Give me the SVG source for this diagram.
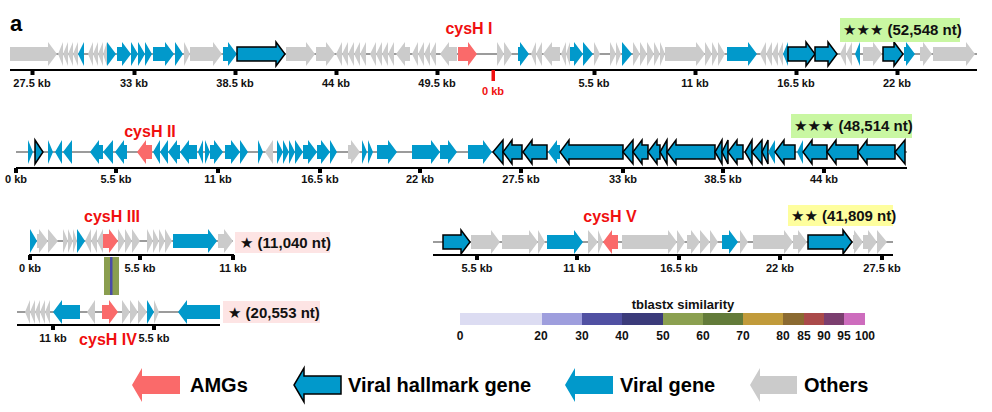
<svg xmlns="http://www.w3.org/2000/svg" width="992" height="412" viewBox="0 0 992 412">
<style>
text{font-family:"Liberation Sans",Arial,"DejaVu Sans",sans-serif;font-weight:bold}
.g{fill:#cbcbcb}
.v{fill:#0199cb}
.h{fill:#0199cb;stroke:#000;stroke-width:1.5;stroke-linejoin:miter}
.r{fill:#fa6a6a}
.trk{stroke:#7a7a7a;stroke-width:1.5;fill:none}
.ax{stroke:#000;stroke-width:2;fill:none}
.tk{fill:#000}
.tl{font-size:11px;text-anchor:middle;fill:#111}
.lab{font-size:16px;text-anchor:middle;fill:#f00f0f}
.st{font-size:15px;fill:#111}
.lg{font-size:20px;fill:#000}
.cb{font-size:12px;text-anchor:middle;fill:#111}
</style>
<text x="10" y="31" style="font-size:22px">a</text>

<g id="row1">
<line class="trk" x1="10" y1="54" x2="977" y2="54"/>
<g id="row1-genes">
<path class="g" d="M10,47 h38 v-5 l9,12 l-9,12 v-5 h-38z"/>
<path class="g" d="M63,42 l-5,12 l5,12z M68,42 l-5,12 l5,12z M73,42 l-5,12 l5,12z M78,42 l-5,12 l5,12z"/>
<path class="v" d="M84,42 l-6,12 l6,12z"/>
<path class="g" d="M93,42 l-5,12 l5,12z M98,42 l-5,12 l5,12z M103,42 l-5,12 l5,12z M107,42 l-4,12 l4,12z"/>
<path class="v" d="M107,42 l9,12 l-9,12z"/>
<path class="v" d="M117,47 h5 v-5 l9,12 l-9,12 v-5 h-5z M131,42 l7,12 l-7,12z M138,42 l7,12 l-7,12z M145,42 l7,12 l-7,12z"/>
<path class="v" d="M153,47 h12 v-5 l9,12 l-9,12 v-5 h-12z M175,42 l8,12 l-8,12z"/>
<path class="g" d="M184,42 l6,12 l-6,12z"/>
<path class="g" d="M190,47 h23 v-5 l9,12 l-9,12 v-5 h-23z"/>
<path class="v" d="M223,47 h5 v-5 l9,12 l-9,12 v-5 h-5z"/>
<path class="h" d="M237,47 h39 v-5 l9,12 l-9,12 v-5 h-39z"/>
<path class="g" d="M286,47 h20 v-5 l9,12 l-9,12 v-5 h-20z"/>
<path class="g" d="M316,47 h10 v-5 l9,12 l-9,12 v-5 h-10z"/>
<path class="g" d="M342,42 l-6,12 l6,12z M348,42 l-6,12 l6,12z M354,42 l-6,12 l6,12z M360,42 l-6,12 l6,12z M366,42 l-6,12 l6,12z"/>
<path class="g" d="M376,42 l-6,12 l6,12z M382,42 l-6,12 l6,12z M388,42 l-6,12 l6,12z M394,42 l-6,12 l6,12z"/>
<path class="g" d="M410,47 h-5 v-5 l-9,12 l9,12 v-5 h5z"/>
<path class="g" d="M418,42 l-6,12 l6,12z M424,42 l-6,12 l6,12z M430,42 l-6,12 l6,12z M436,42 l-6,12 l6,12z"/>
<path class="g" d="M457,47 h-8 v-5 l-9,12 l9,12 v-5 h8z"/>
<path class="r" d="M458,47 h10 v-5 l9,12 l-9,12 v-5 h-10z"/>
<path class="g" d="M497,42 l7,12 l-7,12z M504,42 l8,12 l-8,12z"/>
<path class="v" d="M518,47 h2 v-5 l9,12 l-9,12 v-5 h-2z"/>
<path class="g" d="M536,42 l-5,12 l5,12z M542,42 l-6,12 l6,12z M560,47 h-8 v-5 l-9,12 l9,12 v-5 h8z M566,42 l-5,12 l5,12z M570,42 l-4,12 l4,12z"/>
<path class="v" d="M570,47 h4 v-5 l9,12 l-9,12 v-5 h-4z M583,42 l10,12 l-10,12z"/>
<path class="g" d="M594,42 l6,12 l-6,12z M610,42 l6,12 l-6,12z M616,42 l5,12 l-5,12z"/>
<path class="v" d="M622,42 l10,12 l-10,12z"/>
<path class="g" d="M633,42 l7,12 l-7,12z M640,42 l7,12 l-7,12z M647,42 l7,12 l-7,12z M654,42 l6,12 l-6,12z M660,42 l5,12 l-5,12z"/>
<path class="g" d="M665,47 h31 v-5 l9,12 l-9,12 v-5 h-31z"/>
<path class="g" d="M705,42 l7,12 l-7,12z M712,42 l6,12 l-6,12z M718,42 l7,12 l-7,12z"/>
<path class="v" d="M727,47 h21 v-5 l9,12 l-9,12 v-5 h-21z"/>
<path class="g" d="M766,42 l-6,12 l6,12z M772,42 l-6,12 l6,12z M778,42 l-6,12 l6,12z M783,42 l-5,12 l5,12z"/>
<path class="v" d="M788,42 l-5,12 l5,12z"/>
<path class="h" d="M788,47 h18 v-5 l9,12 l-9,12 v-5 h-18z"/>
<path class="h" d="M815,47 h13 v-5 l9,12 l-9,12 v-5 h-13z"/>
<path class="g" d="M846,42 l-6,12 l6,12z M852,42 l-6,12 l6,12z"/>
<path class="v" d="M860,42 l-5,12 l5,12z"/>
<path class="g" d="M863,47 h10 v-5 l9,12 l-9,12 v-5 h-10z"/>
<path class="h" d="M883,47 h11 v-5 l9,12 l-9,12 v-5 h-11z"/>
<path class="v" d="M904,47 h2 v-5 l9,12 l-9,12 v-5 h-2z"/>
<path class="g" d="M920,47 h3 v-5 l9,12 l-9,12 v-5 h-3z"/>
<path class="g" d="M933,47 h33 v-5 l9,12 l-9,12 v-5 h-33z"/>
</g>
<g id="row1-axis">
<line class="ax" x1="10" y1="70" x2="977" y2="70"/>
<path class="tk" d="M30.5,70h4v5h-4z M132.5,70h4v5h-4z M233.5,70h4v5h-4z M334.5,70h4v5h-4z M435.5,70h4v5h-4z M592.5,70h4v5h-4z M693.5,70h4v5h-4z M794.5,70h4v5h-4z M895.5,70h4v5h-4z"/>
<rect x="491.5" y="70" width="3.5" height="11" fill="#f00f0f"/>
<text class="tl" x="32" y="87">27.5 kb</text>
<text class="tl" x="134" y="87">33 kb</text>
<text class="tl" x="235" y="87">38.5 kb</text>
<text class="tl" x="336" y="87">44 kb</text>
<text class="tl" x="437" y="87">49.5 kb</text>
<text class="tl" x="493" y="95" style="fill:#f00f0f">0 kb</text>
<text class="tl" x="594" y="87">5.5 kb</text>
<text class="tl" x="695" y="87">11 kb</text>
<text class="tl" x="796" y="87">16.5 kb</text>
<text class="tl" x="897" y="87">22 kb</text>
</g>
<text class="lab" x="469" y="34">cysH I</text>
<g id="row1-box">
<rect x="840" y="18" width="120" height="24" fill="#c9f7a2"/>
<text class="st" x="843" y="35">★★★ (52,548 nt)</text>
</g>
</g>

<g id="row2">
<line class="trk" x1="16" y1="152" x2="907" y2="152"/>
<g id="row2-genes">
<path class="v" d="M28,140 l5,12 l-5,12z"/>
<path class="h" d="M35,140 l8,12 l-8,12z"/>
<path class="v" d="M48,140 l5,12 l-5,12z M62,140 l-7,12 l7,12z M72,140 l-9,12 l9,12z"/>
<path class="v" d="M103,145 h-4 v-5 l-9,12 l9,12 v-5 h4z M113,140 l-10,12 l10,12z M127,145 h-3 v-5 l-9,12 l9,12 v-5 h3z"/>
<path class="r" d="M152,145 h-6 v-5 l-9,12 l9,12 v-5 h6z"/>
<path class="v" d="M160,140 l-7,12 l7,12z M168,140 l-8,12 l8,12z M180,145 h-3 v-5 l-9,12 l9,12 v-5 h3z M197,145 h-8 v-5 l-9,12 l9,12 v-5 h8z M203,140 l-5,12 l5,12z"/>
<path class="v" d="M205,140 l5,12 l-5,12z M210,145 h4 v-5 l9,12 l-9,12 v-5 h-4z M225,145 h6 v-5 l9,12 l-9,12 v-5 h-6z M240,140 l8,12 l-8,12z"/>
<path class="v" d="M258,140 l5,12 l-5,12z"/>
<path class="g" d="M273,140 l-8,12 l8,12z"/>
<path class="v" d="M277,140 l6,12 l-6,12z M283,140 l6,12 l-6,12z M289,140 l6,12 l-6,12z M295,140 l8,12 l-8,12z M303,145 h5 v-5 l9,12 l-9,12 v-5 h-5z M317,145 h4 v-5 l9,12 l-9,12 v-5 h-4z M330,140 l7,12 l-7,12z"/>
<path class="g" d="M348,145 h3 v-5 l9,12 l-9,12 v-5 h-3z"/>
<path class="v" d="M362,140 l5,12 l-5,12z M368,140 l5,12 l-5,12z"/>
<path class="v" d="M377,145 h11 v-5 l9,12 l-9,12 v-5 h-11z"/>
<path class="v" d="M412,145 h19 v-5 l9,12 l-9,12 v-5 h-19z M440,145 h8 v-5 l9,12 l-9,12 v-5 h-8z"/>
<path class="v" d="M468,145 h15 v-5 l9,12 l-9,12 v-5 h-15z"/>
<path class="h" d="M503,140 l-10,12 l10,12z"/>
<path class="h" d="M522,145 h-10 v-5 l-9,12 l9,12 v-5 h10z"/>
<path class="h" d="M547,145 h-15 v-5 l-9,12 l9,12 v-5 h15z"/>
<path class="v" d="M560,145 h-3 v-5 l-9,12 l9,12 v-5 h3z"/>
<path class="h" d="M623,145 h-54 v-5 l-9,12 l9,12 v-5 h54z"/>
<path class="h" d="M633,140 l-10,12 l10,12z"/>
<path class="h" d="M648,145 h-6 v-5 l-9,12 l9,12 v-5 h6z"/>
<path class="h" d="M660,145 h-3 v-5 l-9,12 l9,12 v-5 h3z"/>
<path class="h" d="M667,140 l-7,12 l7,12z"/>
<path class="h" d="M715,145 h-39 v-5 l-9,12 l9,12 v-5 h39z"/>
<path class="h" d="M722,140 l-7,12 l7,12z"/>
<path class="h" d="M728,140 l-6,12 l6,12z"/>
<path class="h" d="M743,145 h-6 v-5 l-9,12 l9,12 v-5 h6z"/>
<path class="h" d="M752,140 l-7,12 l7,12z"/>
<path class="h" d="M762,140 l-10,12 l10,12z"/>
<path class="h" d="M768,140 l-6,12 l6,12z"/>
<path class="v" d="M775,140 l-7,12 l7,12z"/>
<path class="h" d="M795,145 h-11 v-5 l-9,12 l9,12 v-5 h11z"/>
<path class="v" d="M803,140 l-6,12 l6,12z"/>
<path class="h" d="M827,145 h-15 v-5 l-9,12 l9,12 v-5 h15z"/>
<path class="h" d="M858,145 h-22 v-5 l-9,12 l9,12 v-5 h22z"/>
<path class="h" d="M895,145 h-28 v-5 l-9,12 l9,12 v-5 h28z"/>
<path class="h" d="M905,140 l-10,12 l10,12z"/>
</g>
<g id="row2-axis">
<line class="ax" x1="16" y1="168" x2="907" y2="168"/>
<path class="tk" d="M14,168h4v5h-4z M114,168h4v5h-4z M216,168h4v5h-4z M318,168h4v5h-4z M418,168h4v5h-4z M519,168h4v5h-4z M621,168h4v5h-4z M721,168h4v5h-4z M822,168h4v5h-4z"/>
<text class="tl" x="16" y="183">0 kb</text>
<text class="tl" x="116" y="183">5.5 kb</text>
<text class="tl" x="218" y="183">11 kb</text>
<text class="tl" x="320" y="183">16.5 kb</text>
<text class="tl" x="420" y="183">22 kb</text>
<text class="tl" x="521" y="183">27.5 kb</text>
<text class="tl" x="623" y="183">33 kb</text>
<text class="tl" x="723" y="183">38.5 kb</text>
<text class="tl" x="824" y="183">44 kb</text>
</g>
<text class="lab" x="150" y="137">cysH II</text>
<g id="row2-box">
<rect x="791" y="114" width="121" height="24" fill="#c9f7a2"/>
<text class="st" x="794" y="131">★★★ (48,514 nt)</text>
</g>
</g>

<g id="similarity">
<rect x="104" y="257" width="15" height="38" fill="#8a9e4f"/>
<rect x="110" y="257" width="2.5" height="38" fill="#4a4aa8"/>
</g>

<g id="row3a">
<line class="trk" x1="30" y1="241" x2="233" y2="241"/>
<path class="v" d="M30,229 l7,12 l-7,12z"/>
<path class="g" d="M37,234 h2 v-5 l9,12 l-9,12 v-5 h-2z M48,229 l10,12 l-10,12z"/>
<path class="g" d="M63,229 l5,12 l-5,12z M68,229 l5,12 l-5,12z M73,229 l4,12 l-4,12z"/>
<path class="v" d="M77,229 l8,12 l-8,12z"/>
<path class="g" d="M91,229 l-6,12 l6,12z M97,229 l-6,12 l6,12z M103,229 l-6,12 l6,12z"/>
<path class="r" d="M103,234 h6 v-5 l9,12 l-9,12 v-5 h-6z"/>
<path class="g" d="M118,229 l7,12 l-7,12z M125,229 l7,12 l-7,12z M132,229 l8,12 l-8,12z"/>
<path class="g" d="M147,229 l6,12 l-6,12z M153,229 l6,12 l-6,12z M159,229 l6,12 l-6,12z M165,229 l7,12 l-7,12z"/>
<path class="v" d="M173,234 h35 v-5 l9,12 l-9,12 v-5 h-35z"/>
<path class="g" d="M218,234 h6 v-5 l9,12 l-9,12 v-5 h-6z"/>
<line class="ax" x1="29" y1="255" x2="234" y2="255"/>
<path class="tk" d="M28,255h4v5h-4z M138,255h4v5h-4z M231,255h4v5h-4z"/>
<text class="tl" x="30" y="272">0 kb</text>
<text class="tl" x="140" y="272">5.5 kb</text>
<text class="tl" x="233" y="272">11 kb</text>
<text class="lab" x="112" y="222">cysH III</text>
<rect x="235" y="232" width="95" height="21" fill="#fde4e4"/>
<text class="st" x="240" y="248">★ (11,040 nt)</text>
</g>

<g id="row3b">
<line class="trk" x1="17" y1="312" x2="220" y2="312"/>
<path class="g" d="M30,300 l-5,12 l5,12z M35,300 l-5,12 l5,12z M40,300 l-5,12 l5,12z M45,300 l-5,12 l5,12z M50,300 l-5,12 l5,12z"/>
<path class="v" d="M80,305 h-18 v-5 l-9,12 l9,12 v-5 h18z"/>
<path class="g" d="M95,300 l-8,12 l8,12z"/>
<path class="r" d="M102,305 h7 v-5 l9,12 l-9,12 v-5 h-7z"/>
<path class="g" d="M122,300 l8,12 l-8,12z M130,300 l8,12 l-8,12z M138,300 l9,12 l-9,12z"/>
<path class="v" d="M147,300 l7,12 l-7,12z"/>
<path class="g" d="M154,300 l5,12 l-5,12z"/>
<path class="v" d="M220,305 h-33 v-5 l-9,12 l9,12 v-5 h33z"/>
<line class="ax" x1="17" y1="325" x2="220" y2="325"/>
<path class="tk" d="M51,325h4v5h-4z M152,325h4v5h-4z"/>
<text class="tl" x="53" y="342">11 kb</text>
<text class="tl" x="154" y="342">5.5 kb</text>
<text class="lab" x="108" y="345">cysH IV</text>
<rect x="223" y="301" width="97" height="22" fill="#fde4e4"/>
<text class="st" x="228" y="318">★ (20,553 nt)</text>
</g>

<g id="row3c">
<line class="trk" x1="433" y1="242" x2="893" y2="242"/>
<path class="h" d="M443,235 h18 v-5 l9,12 l-9,12 v-5 h-18z"/>
<path class="g" d="M471,235 h20 v-5 l9,12 l-9,12 v-5 h-20z M502,235 h27 v-5 l9,12 l-9,12 v-5 h-27z M538,230 l7,12 l-7,12z"/>
<path class="v" d="M547,235 h27 v-5 l9,12 l-9,12 v-5 h-27z"/>
<path class="g" d="M588,230 l10,12 l-10,12z M598,230 l5,12 l-5,12z"/>
<path class="r" d="M618,235 h-6 v-5 l-9,12 l9,12 v-5 h6z"/>
<path class="g" d="M622,235 h46 v-5 l9,12 l-9,12 v-5 h-46z M677,230 l8,12 l-8,12z M687,235 h4 v-5 l9,12 l-9,12 v-5 h-4z M700,230 l10,12 l-10,12z M710,230 l8,12 l-8,12z"/>
<path class="v" d="M722,235 h7 v-5 l9,12 l-9,12 v-5 h-7z"/>
<path class="g" d="M740,230 l8,12 l-8,12z"/>
<path class="g" d="M753,235 h31 v-5 l9,12 l-9,12 v-5 h-31z M793,235 h5 v-5 l9,12 l-9,12 v-5 h-5z"/>
<path class="h" d="M808,235 h35 v-5 l9,12 l-9,12 v-5 h-35z"/>
<path class="g" d="M853,235 h1 v-5 l9,12 l-9,12 v-5 h-1z M863,235 h5 v-5 l9,12 l-9,12 v-5 h-5z M877,230 l10,12 l-10,12z"/>
<line class="ax" x1="433" y1="255" x2="893" y2="255"/>
<path class="tk" d="M475,255h4v5h-4z M575,255h4v5h-4z M677,255h4v5h-4z M778,255h4v5h-4z M880,255h4v5h-4z"/>
<text class="tl" x="477" y="272">5.5 kb</text>
<text class="tl" x="577" y="272">11 kb</text>
<text class="tl" x="679" y="272">16.5 kb</text>
<text class="tl" x="780" y="272">22 kb</text>
<text class="tl" x="882" y="272">27.5 kb</text>
<text class="lab" x="610" y="222">cysH V</text>
<rect x="788" y="205" width="105" height="21" fill="#fefe9e"/>
<text class="st" x="791" y="221">★★ (41,809 nt)</text>
</g>

<g id="colorbar">
<text x="683" y="309" style="font-size:13px;text-anchor:middle;fill:#111">tblastx similarity</text>
<rect x="460" y="313" width="82" height="12" fill="#dcdcf2"/>
<rect x="542" y="313" width="40" height="12" fill="#9e9edd"/>
<rect x="582" y="313" width="40" height="12" fill="#5050a2"/>
<rect x="622" y="313" width="41" height="12" fill="#3b3b7a"/>
<rect x="663" y="313" width="40" height="12" fill="#8ba050"/>
<rect x="703" y="313" width="40" height="12" fill="#637b3a"/>
<rect x="743" y="313" width="40" height="12" fill="#c19b3b"/>
<rect x="783" y="313" width="21" height="12" fill="#8b6a31"/>
<rect x="804" y="313" width="20" height="12" fill="#aa4a4a"/>
<rect x="824" y="313" width="20" height="12" fill="#7b3e6f"/>
<rect x="844" y="313" width="21" height="12" fill="#cd6cbd"/>
<text class="cb" x="460" y="340">0</text>
<text class="cb" x="541" y="340">20</text>
<text class="cb" x="582" y="340">30</text>
<text class="cb" x="622" y="340">40</text>
<text class="cb" x="663" y="340">50</text>
<text class="cb" x="703" y="340">60</text>
<text class="cb" x="743" y="340">70</text>
<text class="cb" x="783" y="340">80</text>
<text class="cb" x="804" y="340">85</text>
<text class="cb" x="824" y="340">90</text>
<text class="cb" x="844" y="340">95</text>
<text class="cb" x="865" y="340">100</text>
</g>

<g id="legend">
<path class="r" d="M180,376 h-38 v-8 l-10,17 l10,17 v-8 h38z"/>
<text class="lg" x="190" y="392">AMGs</text>
<path class="h" d="M341,376 h-37 v-8 l-10,17 l10,17 v-8 h37z"/>
<text class="lg" x="348" y="392">Viral hallmark gene</text>
<path class="v" d="M613,376 h-38 v-8 l-10,17 l10,17 v-8 h38z"/>
<text class="lg" x="620" y="392">Viral gene</text>
<path class="g" d="M797,376 h-37 v-8 l-10,17 l10,17 v-8 h37z"/>
<text class="lg" x="804" y="392">Others</text>
</g>
</svg>
